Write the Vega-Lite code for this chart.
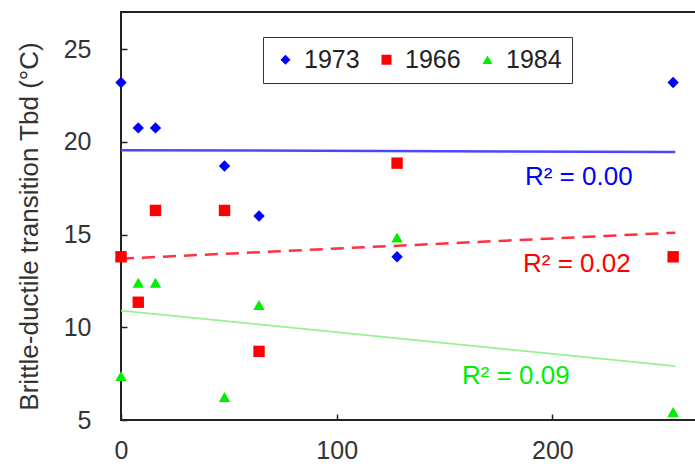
{
  "$schema": "https://vega.github.io/schema/vega-lite/v6.json",
  "width": 575,
  "height": 408,
  "autosize": "none",
  "padding": {"left": 121, "top": 12, "right": 0, "bottom": 44},
  "background": "white",
  "config": {
    "font": "Liberation Sans",
    "view": {"stroke": "#222", "strokeWidth": 2},
    "axis": {"grid": false, "domain": false, "labelColor": "#333", "tickColor": "#222", "tickWidth": 1.5, "tickSize": -6, "labelFont": "Liberation Sans", "titleFont": "Liberation Sans", "titleColor": "#333", "titleFontWeight": "normal"}
  },
  "datasets": {
    "points": [
      {"series": "1973", "x": 0, "y": 23.2},
      {"series": "1973", "x": 8, "y": 20.75},
      {"series": "1973", "x": 16, "y": 20.75},
      {"series": "1973", "x": 48, "y": 18.7},
      {"series": "1973", "x": 64, "y": 16.0},
      {"series": "1973", "x": 128, "y": 13.8},
      {"series": "1973", "x": 256, "y": 23.2},
      {"series": "1966", "x": 0, "y": 13.8},
      {"series": "1966", "x": 8, "y": 11.35},
      {"series": "1966", "x": 16, "y": 16.3},
      {"series": "1966", "x": 48, "y": 16.3},
      {"series": "1966", "x": 64, "y": 8.7},
      {"series": "1966", "x": 128, "y": 18.85},
      {"series": "1966", "x": 256, "y": 13.8},
      {"series": "1984", "x": 0, "y": 7.37},
      {"series": "1984", "x": 8, "y": 12.4},
      {"series": "1984", "x": 16, "y": 12.4},
      {"series": "1984", "x": 48, "y": 6.24},
      {"series": "1984", "x": 64, "y": 11.2},
      {"series": "1984", "x": 128, "y": 14.84},
      {"series": "1984", "x": 256, "y": 5.43}
    ],
    "trends": [
      {"series": "1973", "x": 0, "y": 19.55},
      {"series": "1973", "x": 257, "y": 19.45},
      {"series": "1966", "x": 0, "y": 13.7},
      {"series": "1966", "x": 257, "y": 15.1},
      {"series": "1984", "x": 0, "y": 10.9},
      {"series": "1984", "x": 257, "y": 7.9}
    ],
    "labels": [
      {"series": "1973", "x": 187.3, "y": 18.12, "text": "R² = 0.00"},
      {"series": "1966", "x": 186.4, "y": 13.39, "text": "R² = 0.02"},
      {"series": "1984", "x": 158.1, "y": 7.37, "text": "R² = 0.09"}
    ]
  },
  "layer": [
    {
      "data": {"name": "trends"},
      "transform": [{"filter": "datum.series == '1973'"}],
      "mark": {"type": "line", "color": "#4848ff", "strokeWidth": 2.5},
      "encoding": {
        "x": {"field": "x", "type": "quantitative"},
        "y": {"field": "y", "type": "quantitative"}
      }
    },
    {
      "data": {"name": "trends"},
      "transform": [{"filter": "datum.series == '1966'"}],
      "mark": {"type": "line", "color": "#ff3040", "strokeWidth": 2.5, "strokeDash": [13, 8]},
      "encoding": {
        "x": {"field": "x", "type": "quantitative"},
        "y": {"field": "y", "type": "quantitative"}
      }
    },
    {
      "data": {"name": "trends"},
      "transform": [{"filter": "datum.series == '1984'"}],
      "mark": {"type": "line", "color": "#98f098", "strokeWidth": 1.8},
      "encoding": {
        "x": {"field": "x", "type": "quantitative"},
        "y": {"field": "y", "type": "quantitative"}
      }
    },
    {
      "data": {"name": "points"},
      "mark": {"type": "point", "filled": true, "size": 130, "opacity": 1},
      "encoding": {
        "x": {
          "field": "x", "type": "quantitative",
          "scale": {"domain": [0, 266.6], "nice": false, "zero": false},
          "axis": {"title": null, "values": [0, 100, 200], "labelFontSize": 25, "labelPadding": 24, "labelFlush": false}
        },
        "y": {
          "field": "y", "type": "quantitative",
          "scale": {"domain": [5, 27], "nice": false, "zero": false},
          "axis": {"title": "Brittle-ductile transition Tbd (°C)", "values": [5, 10, 15, 20, 25], "labelFontSize": 25, "labelPadding": 36, "titleFontSize": 26, "titlePadding": 21, "titleY": 214}
        },
        "color": {
          "field": "series", "type": "nominal",
          "scale": {"domain": ["1973", "1966", "1984"], "range": ["#0000ff", "#ff0000", "#00ee00"]},
          "legend": {
            "title": null, "orient": "none", "legendX": 142, "legendY": 25,
            "direction": "horizontal", "padding": 10, "labelFontSize": 25, "labelColor": "#222",
            "symbolSize": 100, "labelOffset": 6, "columnPadding": 14,
            "symbolOpacity": 1,
            "strokeColor": "#333",
            "fillColor": "white"
          }
        },
        "shape": {
          "field": "series", "type": "nominal",
          "scale": {"domain": ["1973", "1966", "1984"], "range": ["diamond", "square", "triangle-up"]}
        }
      }
    },
    {
      "data": {"name": "labels"},
      "mark": {"type": "text", "align": "left", "baseline": "middle", "fontSize": 26, "font": "Liberation Sans"},
      "encoding": {
        "x": {"field": "x", "type": "quantitative"},
        "y": {"field": "y", "type": "quantitative"},
        "text": {"field": "text"},
        "color": {"field": "series", "type": "nominal", "legend": null}
      }
    }
  ]
}
